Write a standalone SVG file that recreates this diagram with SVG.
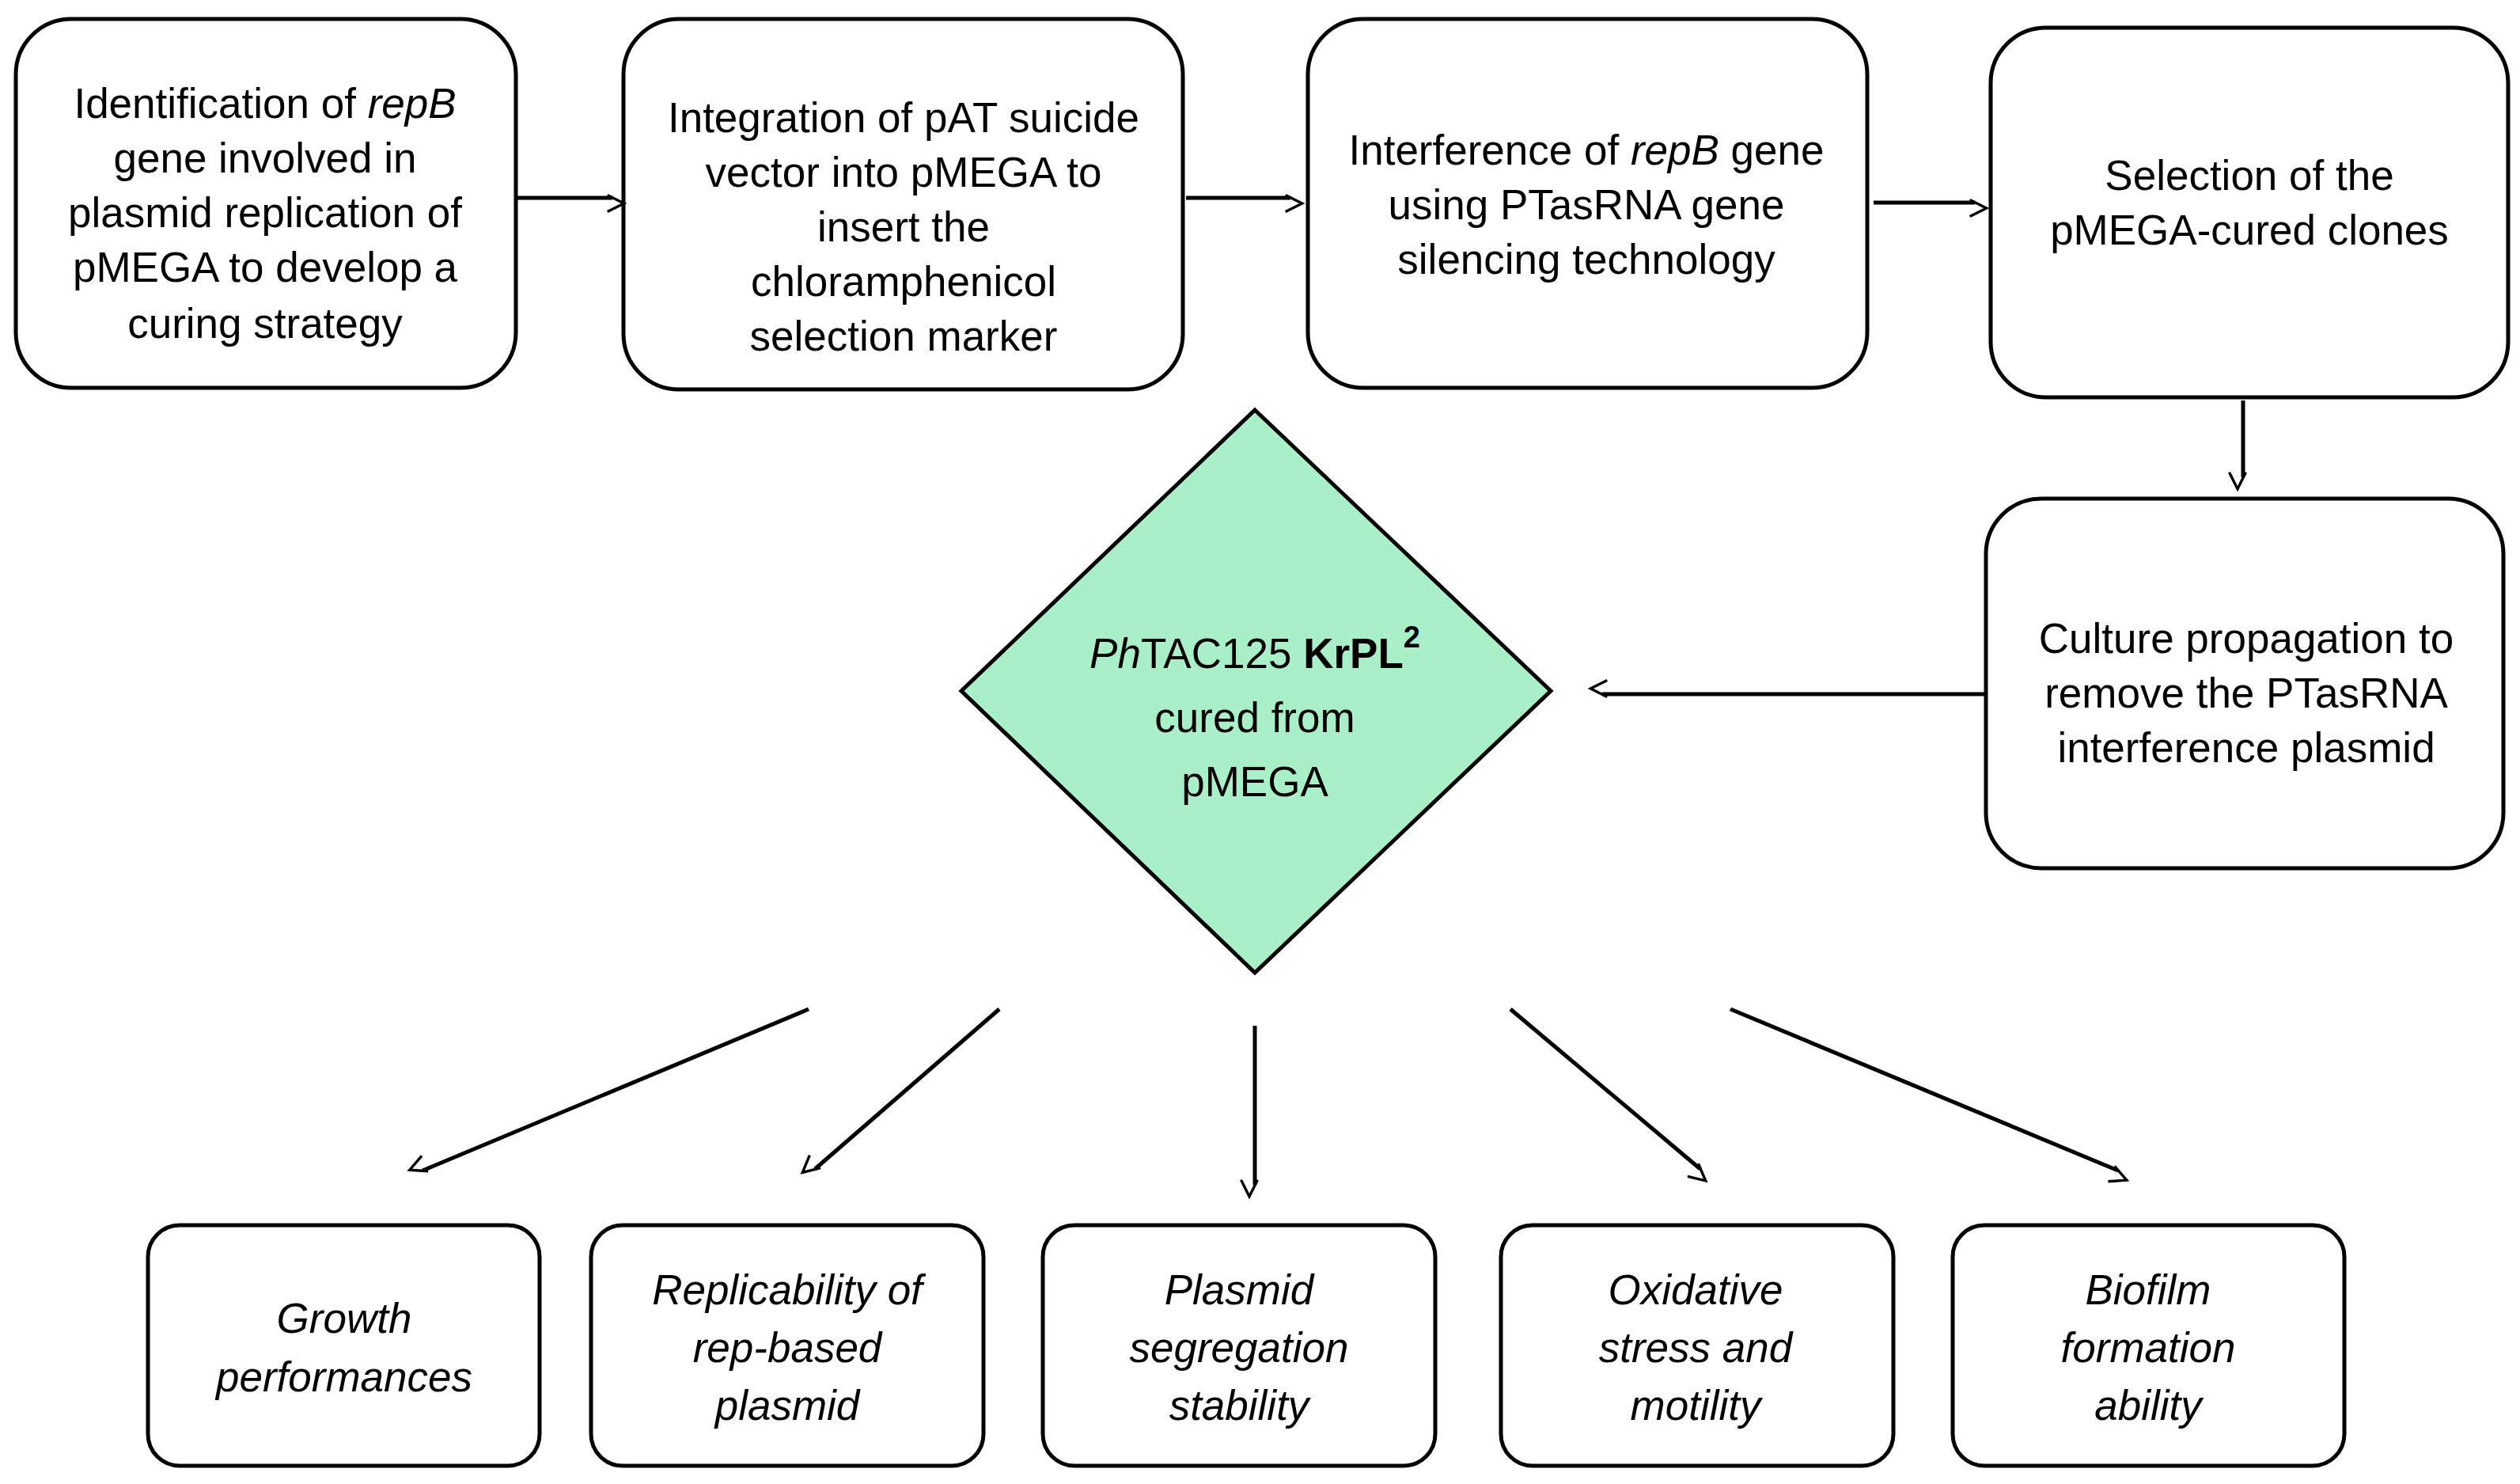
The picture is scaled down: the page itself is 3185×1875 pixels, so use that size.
<svg xmlns="http://www.w3.org/2000/svg" width="3185" height="1875" viewBox="0 0 3185 1875">
<style>
.b{fill:#fff;stroke:#000;stroke-width:5}
text{font-family:Arial,"Liberation Sans",sans-serif;font-size:53px;text-anchor:middle;dominant-baseline:central;fill:#000}
.i{font-style:italic}
.c{stroke:#000;stroke-width:5;fill:none;marker-end:url(#a)}
</style>
<defs><marker id="a" viewBox="0 0 10 10" refX="9" refY="5" markerWidth="7" markerHeight="7" markerUnits="userSpaceOnUse" orient="auto" style="overflow:visible"><path d="M0,0 L10,5 L0,10" fill="none" stroke="#000" stroke-width="1.6" transform="scale(3)" /></marker></defs>
<rect width="3185" height="1875" fill="#fff"/>
<g id="n1"><rect class="b" x="20" y="24" width="632" height="466" rx="70"/>
<text x="335" y="130">Identification of <tspan class="i">repB</tspan></text><text x="335" y="199">gene involved in</text><text x="335" y="268">plasmid replication of</text><text x="335" y="337">pMEGA to develop a</text><text x="335" y="408">curing strategy</text></g>
<g id="n2"><rect class="b" x="788" y="24" width="707" height="468" rx="70"/>
<text x="1142" y="148">Integration of pAT suicide</text><text x="1142" y="217">vector into pMEGA to</text><text x="1142" y="286">insert the</text><text x="1142" y="355">chloramphenicol</text><text x="1142" y="424">selection marker</text></g>
<g id="n3"><rect class="b" x="1653" y="24" width="707" height="466" rx="70"/>
<text x="2005" y="189">Interference of <tspan class="i">repB</tspan> gene</text><text x="2005" y="258">using PTasRNA gene</text><text x="2005" y="327">silencing technology</text></g>
<g id="n4"><rect class="b" x="2516" y="35" width="654" height="467" rx="70"/>
<text x="2843" y="221">Selection of the</text><text x="2843" y="290">pMEGA-cured clones</text></g>
<g id="n5"><rect class="b" x="2510" y="630" width="654" height="467" rx="70"/>
<text x="2839" y="806">Culture propagation to</text><text x="2839" y="875">remove the PTasRNA</text><text x="2839" y="944">interference plasmid</text></g>
<g id="n6"><polygon points="1586,518 1960,873 1586,1229 1215,873" fill="#a9f0c9" stroke="#000" stroke-width="5"/>
<text x="1586" y="825" font-size="61"><tspan class="i">Ph</tspan>TAC125 <tspan font-weight="bold">KrPL</tspan><tspan font-weight="bold" font-size="38" dy="-20">2</tspan></text><text x="1586" y="906" font-size="61">cured from</text><text x="1586" y="987" font-size="61">pMEGA</text></g>
<g id="n7"><rect class="b" x="187" y="1548" width="495" height="304" rx="40"/><text class="i" x="435" y="1665">Growth</text><text class="i" x="435" y="1739">performances</text></g>
<g id="n8"><rect class="b" x="747" y="1548" width="496" height="304" rx="40"/><text class="i" x="995" y="1629">Replicability of</text><text class="i" x="995" y="1702">rep-based</text><text class="i" x="995" y="1775">plasmid</text></g>
<g id="n9"><rect class="b" x="1318" y="1548" width="496" height="304" rx="40"/><text class="i" x="1566" y="1629">Plasmid</text><text class="i" x="1566" y="1702">segregation</text><text class="i" x="1566" y="1775">stability</text></g>
<g id="n10"><rect class="b" x="1897" y="1548" width="496" height="304" rx="40"/><text class="i" x="2143" y="1629">Oxidative</text><text class="i" x="2143" y="1702">stress and</text><text class="i" x="2143" y="1775">motility</text></g>
<g id="n11"><rect class="b" x="2468" y="1548" width="495" height="304" rx="40"/><text class="i" x="2715" y="1629">Biofilm</text><text class="i" x="2715" y="1702">formation</text><text class="i" x="2715" y="1775">ability</text></g>
<g id="connectors">
<line class="c" x1="652" y1="250" x2="774" y2="250"/>
<line class="c" x1="1499" y1="250" x2="1631" y2="250"/>
<line class="c" x1="2368" y1="256" x2="2496" y2="256"/>
<line class="c" x1="2835" y1="506" x2="2835" y2="603"/>
<line class="c" x1="2510" y1="877" x2="2025" y2="877"/>
<line class="c" x1="1022" y1="1275" x2="534" y2="1479"/>
<line class="c" x1="1263" y1="1275" x2="1030" y2="1477"/>
<line class="c" x1="1586" y1="1296" x2="1586" y2="1497"/>
<line class="c" x1="1909" y1="1275" x2="2149" y2="1477"/>
<line class="c" x1="2187" y1="1275" x2="2677" y2="1479"/>
</g>
</svg>
